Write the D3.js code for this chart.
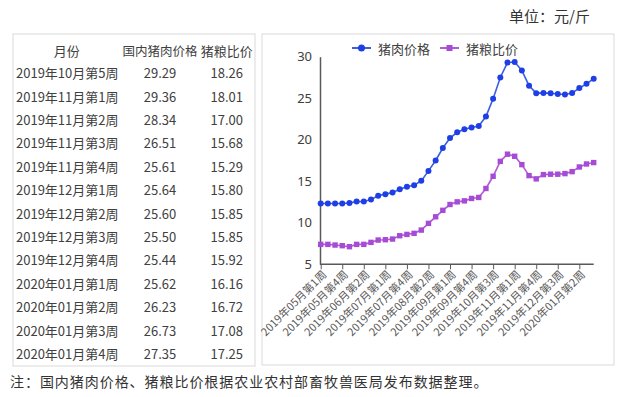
<!DOCTYPE html>
<html>
<head>
<meta charset="utf-8">
<script src="https://cdn.jsdelivr.net/npm/d3@7"></script>
<style>
  body { margin: 0; background: #fff; }
  text { font-family: "Noto Sans CJK SC", "Noto Sans", sans-serif; }
</style>
</head>
<body>
<div id="chart"></div>
<script>
// data
const weeks = [
  "2019年05月第1周", "2019年05月第2周", "2019年05月第3周", "2019年05月第4周", "2019年05月第5周",
  "2019年06月第1周", "2019年06月第2周", "2019年06月第3周", "2019年06月第4周",
  "2019年07月第1周", "2019年07月第2周", "2019年07月第3周", "2019年07月第4周", "2019年07月第5周",
  "2019年08月第1周", "2019年08月第2周", "2019年08月第3周", "2019年08月第4周",
  "2019年09月第1周", "2019年09月第2周", "2019年09月第3周", "2019年09月第4周",
  "2019年10月第1周", "2019年10月第2周", "2019年10月第3周", "2019年10月第4周", "2019年10月第5周",
  "2019年11月第1周", "2019年11月第2周", "2019年11月第3周", "2019年11月第4周",
  "2019年12月第1周", "2019年12月第2周", "2019年12月第3周", "2019年12月第4周",
  "2020年01月第1周", "2020年01月第2周", "2020年01月第3周", "2020年01月第4周"
];
const porkPrice = [12.33, 12.33, 12.32, 12.32, 12.38, 12.55, 12.57, 12.8, 13.25, 13.45,
  13.65, 14.05, 14.33, 14.53, 15.05, 16.25, 17.5, 19.0, 20.2, 20.9,
  21.26, 21.47, 21.66, 22.8, 24.95, 27.5, 29.29, 29.36, 28.34, 26.51,
  25.61, 25.64, 25.60, 25.50, 25.44, 25.62, 26.23, 26.73, 27.35];
const hogGrainRatio = [7.4, 7.4, 7.32, 7.24, 7.12, 7.4, 7.4, 7.64, 7.92, 7.96,
  8.04, 8.44, 8.6, 8.73, 9.12, 9.93, 10.72, 11.5, 12.2, 12.52,
  12.64, 12.93, 13.05, 14.13, 15.6, 17.4, 18.26, 18.01, 17.00, 15.68,
  15.29, 15.80, 15.85, 15.85, 15.92, 16.16, 16.72, 17.08, 17.25];
const yTicks = [5, 10, 15, 20, 25, 30];
const tableHeader = ["月份", "国内猪肉价格", "猪粮比价"];
const tableRows = 13;

const width = 640, height = 397;
const svg = d3.select("#chart").append("svg")
  .attr("width", width).attr("height", height);

// unit label and note
svg.append("text").attr("x", 590).attr("y", 15)
  .attr("text-anchor", "end").attr("dominant-baseline", "central")
  .style("font-size", "15px").style("fill", "#333")
  .text("单位：元/斤");
svg.append("text").attr("x", 10).attr("y", 381)
  .attr("dominant-baseline", "central")
  .style("font-size", "14px").style("letter-spacing", "0.95px").style("fill", "#333")
  .text("注：国内猪肉价格、猪粮比价根据农业农村部畜牧兽医局发布数据整理。");

// table
svg.append("rect").attr("x", 13).attr("y", 34).attr("width", 242).attr("height", 332)
  .style("fill", "none").style("stroke", "#d9d9d9");
const colX = [66.7, 160, 226.7];
const table = svg.append("g").style("fill", "#404040").style("font-size", "13px");
table.selectAll(".head").data(tableHeader).enter().append("text")
  .attr("x", (d, i) => colX[i]).attr("y", 50)
  .attr("text-anchor", "middle").attr("dominant-baseline", "central")
  .style("font-size", (d, i) => i === 1 ? "12.5px" : "13px")
  .text((d) => d);
const start = weeks.length - tableRows;
const rows = d3.range(start, weeks.length).map((i) => [weeks[i], porkPrice[i].toFixed(2), hogGrainRatio[i].toFixed(2)]);
const rowY = d3.scaleLinear().domain([0, 1]).range([72.7, 96.1]);
rows.forEach((r, ri) => {
  table.selectAll(null).data(r).enter().append("text")
    .attr("x", (d, i) => i === 0 ? 16 : colX[i])
    .attr("y", rowY(ri))
    .attr("text-anchor", (d, i) => i === 0 ? "start" : "middle")
    .attr("dominant-baseline", "central")
    .text((d) => d);
});

// chart box
svg.append("rect").attr("x", 262).attr("y", 34).attr("width", 352).attr("height", 331)
  .style("fill", "none").style("stroke", "#d9d9d9");

const x = d3.scalePoint().domain(weeks).range([320.7, 593.7]);
const y = d3.scaleLinear().domain([5, 30]).range([264.3, 56.7]);

// y axis
const yAxis = svg.append("g").attr("transform", "translate(320,0)")
  .call(d3.axisLeft(y).tickValues(yTicks).tickSize(0).tickPadding(8));
yAxis.select(".domain").style("stroke", "#595959").style("stroke-width", 1.5);
yAxis.selectAll("text").style("font-size", "13px").style("fill", "#404040")
  .style("font-family", "'Noto Sans', sans-serif");

// x axis
const labelWeeks = weeks.filter((d, i) => i % 3 === 0);
const xAxis = svg.append("g").attr("transform", "translate(0,264.3)")
  .call(d3.axisBottom(x).tickValues(labelWeeks).tickSizeOuter(0).tickSize(5));
xAxis.select(".domain").attr("d", "M320,0H593.7").style("stroke", "#595959").style("stroke-width", 1.5);
xAxis.selectAll(".tick line").style("stroke", "#595959");
xAxis.selectAll(".tick text")
  .attr("text-anchor", "end")
  .attr("dy", null)
  .attr("y", null)
  .attr("transform", "translate(6,11) rotate(-45)")
  .style("font-size", "11px").style("fill", "#595959");

// lines
const series = [
  { name: "猪肉价格", values: porkPrice, line: "#3d5ee0", fill: "#1f3fe6", shape: "circle" },
  { name: "猪粮比价", values: hogGrainRatio, line: "#b35ad8", fill: "#a64bd6", shape: "square" }
];
const line = d3.line().x((d, i) => x(weeks[i])).y((d) => y(d));

series.forEach((s) => {
  const g = svg.append("g");
  g.append("path").datum(s.values).attr("d", line)
    .style("fill", "none").style("stroke", s.line).style("stroke-width", 1.6);
  if (s.shape === "circle") {
    g.selectAll("circle").data(s.values).enter().append("circle")
      .attr("cx", (d, i) => x(weeks[i])).attr("cy", (d) => y(d)).attr("r", 3)
      .style("fill", s.fill);
  } else {
    g.selectAll("rect").data(s.values).enter().append("rect")
      .attr("x", (d, i) => x(weeks[i]) - 2.7).attr("y", (d) => y(d) - 2.7)
      .attr("width", 5.4).attr("height", 5.4)
      .style("fill", s.fill);
  }
});

// legend
const legend = svg.append("g").attr("transform", "translate(0,48)");
const legendX = [352, 440];
series.forEach((s, i) => {
  const lx = legendX[i];
  legend.append("line").attr("x1", lx).attr("x2", lx + 19).attr("y1", 0).attr("y2", 0)
    .style("stroke", s.line).style("stroke-width", 2);
  if (s.shape === "circle") {
    legend.append("circle").attr("cx", lx + 9.5).attr("cy", 0).attr("r", 3.5).style("fill", s.fill);
  } else {
    legend.append("rect").attr("x", lx + 6.5).attr("y", -3).attr("width", 6).attr("height", 6).style("fill", s.fill);
  }
  legend.append("text").attr("x", lx + 26).attr("y", 0)
    .attr("dominant-baseline", "central")
    .style("font-size", "13px").style("fill", "#404040")
    .text(s.name);
});
</script>
</body>
</html>
